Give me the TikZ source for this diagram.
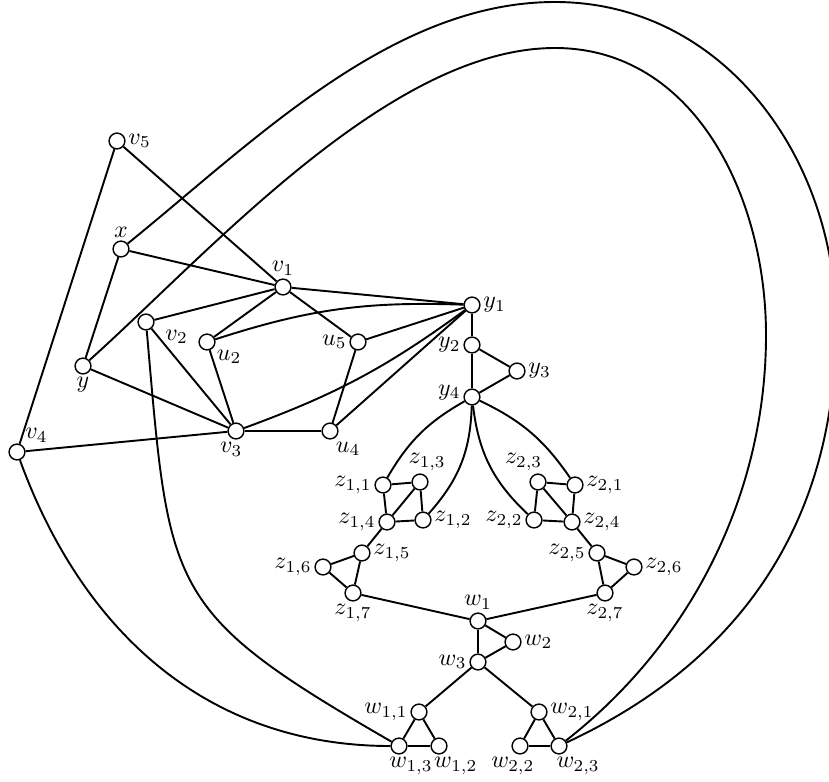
\documentclass[tikz,border=0pt]{standalone}
\usepackage{amsmath}
\usepackage{amssymb}

\begin{document}
\begin{tikzpicture}[
		x=0.0147cm, y=0.0147cm, % one unit is one pixel of the sketch
		vert/.style={
				circle,
				draw,
				fill=white,
				semithick,
				inner sep=0pt,
				minimum size=6.6pt % Diameter of the vertex discs
			},
		edge/.style={thick},
		every label/.append style={inner sep=1pt},
		label distance=0pt
	]
	\useasboundingbox (0,0) rectangle (829,-781);

	% outer part
	\node[vert, label=right:$v_5$] (v5) at (117,-141) {};
	\node[vert, label=above:$x$] (x) at (121,-249) {};
	\node[vert, label=above:$v_1$] (v1) at (283,-287) {};
	\node[vert, label=right:$y_1$] (y1) at (472,-305) {};
	\node[vert, label={[xshift=4pt]-35:$v_2$}] (v2) at (146,-322) {};
	\node[vert, label=-35:$u_2$] (u2) at (207,-342) {};
	\node[vert, label=left:$u_5$] (u5) at (358,-342) {};
	\node[vert, label=below:$y$] (y) at (83,-366) {};
	\node[vert, label={[xshift=-2pt]below:$v_3$}] (v3) at (236,-431) {};
	\node[vert, label=-70:$u_4$] (u4) at (330,-431) {};
	\node[vert, label=50:$v_4$] (v4) at (17,-452) {};

	% y gadget
	\node[vert, label=left:$y_2$] (y2) at (472,-345) {};
	\node[vert, label=right:$y_3$] (y3) at (517,-371) {};
	\node[vert, label={[yshift=2pt]left:$y_4$}] (y4) at (472,-397) {};

	% z gadgets
	\node[vert, label=left:$z_{1,1}$] (z11) at (383,-485) {};
	\node[vert, label={[xshift=3pt]above:$z_{1,3}$}] (z13) at (420,-482) {};
	\node[vert, label=left:$z_{1,4}$] (z14) at (387,-522) {};
	\node[vert, label=right:$z_{1,2}$] (z12) at (423,-520) {};
	\node[vert, label=right:$z_{1,5}$] (z15) at (362,-553) {};
	\node[vert, label=left:$z_{1,6}$] (z16) at (323,-567) {};
	\node[vert, label=below:$z_{1,7}$] (z17) at (353,-593) {};

	\node[vert, label={[xshift=-6pt]above:$z_{2,3}$}] (z23) at (538,-482) {};
	\node[vert, label=right:$z_{2,1}$] (z21) at (575,-485) {};
	\node[vert, label=left:$z_{2,2}$] (z22) at (534,-520) {};
	\node[vert, label=right:$z_{2,4}$] (z24) at (572,-522) {};
	\node[vert, label=left:$z_{2,5}$] (z25) at (597,-553) {};
	\node[vert, label=right:$z_{2,6}$] (z26) at (634,-567) {};
	\node[vert, label=below:$z_{2,7}$] (z27) at (605,-593) {};

	% w gadgets
	\node[vert, label=above:$w_1$] (w1) at (478,-621) {};
	\node[vert, label=right:$w_2$] (w2) at (513,-642) {};
	\node[vert, label=left:$w_3$] (w3) at (478,-662) {};
	\node[vert, label=left:$w_{1,1}$] (w11) at (419,-712) {};
	\node[vert, label=right:$w_{2,1}$] (w21) at (539,-712) {};
	\node[vert, label={[xshift=5pt]below:$w_{1,3}$}] (w13) at (399,-746) {};
	\node[vert, label={[xshift=7pt]below:$w_{1,2}$}] (w12) at (439,-746) {};
	\node[vert, label={[xshift=-3pt]below:$w_{2,2}$}] (w22) at (520,-746) {};
	\node[vert, label={[xshift=8pt]below:$w_{2,3}$}] (w23) at (559,-746) {};

	% turning points of the two long arcs
	\coordinate (otop) at (555,-2);
	\coordinate (oright) at (836,-325);
	\coordinate (itop) at (555,-48);
	\coordinate (iright) at (766,-335);

	\draw[edge] (v5) -- (v4);
	\draw[edge] (v5) -- (v1);
	\draw[edge] (x) -- (v1);
	\draw[edge] (x) -- (y);
	\draw[edge] (y) -- (v3);
	\draw[edge] (v1) -- (v2);
	\draw[edge] (v1) -- (u2);
	\draw[edge] (v1) -- (u5);
	\draw[edge] (v1) -- (y1);
	\draw[edge] (v2) -- (v3);
	\draw[edge] (u2) -- (v3);
	\draw[edge] (u2) to[bend left=10] (y1);
	\draw[edge] (u5) -- (y1);
	\draw[edge] (u5) -- (u4);
	\draw[edge] (v3) -- (u4);
	\draw[edge] (v3) to[bend right=8] (y1);
	\draw[edge] (u4) -- (y1);
	\draw[edge] (v3) -- (v4);

	\draw[edge] (v4) to[out=-70, in=180] (w13);
	\draw[edge] (v2) to[out=-85, in=150, looseness=1.4] (w13);
	\draw[edge] (x) to[out=39, in=180, looseness=0.85] (otop)
	to[out=0, in=90] (oright)
	to[out=-90, in=25] (w23);
	\draw[edge] (y) to[out=42, in=180, looseness=0.75] (itop)
	to[out=0, in=90] (iright)
	to[out=-90, in=38, looseness=0.9] (w23);

	\draw[edge] (y1) -- (y2);
	\draw[edge] (y2) -- (y3);
	\draw[edge] (y2) -- (y4);
	\draw[edge] (y3) -- (y4);

	\draw[edge] (y4) to[bend right=15] (z11);
	\draw[edge] (y4) to[bend left=20] (z12);
	\draw[edge] (y4) to[bend right=20] (z22);
	\draw[edge] (y4) to[bend left=15] (z21);

	\draw[edge] (z11) -- (z13);
	\draw[edge] (z11) -- (z14);
	\draw[edge] (z13) -- (z14);
	\draw[edge] (z13) -- (z12);
	\draw[edge] (z14) -- (z12);
	\draw[edge] (z14) -- (z15);
	\draw[edge] (z15) -- (z16);
	\draw[edge] (z15) -- (z17);
	\draw[edge] (z16) -- (z17);
	\draw[edge] (z17) -- (w1);

	\draw[edge] (z23) -- (z21);
	\draw[edge] (z23) -- (z22);
	\draw[edge] (z23) -- (z24);
	\draw[edge] (z21) -- (z24);
	\draw[edge] (z22) -- (z24);
	\draw[edge] (z24) -- (z25);
	\draw[edge] (z25) -- (z26);
	\draw[edge] (z25) -- (z27);
	\draw[edge] (z26) -- (z27);
	\draw[edge] (z27) -- (w1);

	\draw[edge] (w1) -- (w2);
	\draw[edge] (w1) -- (w3);
	\draw[edge] (w2) -- (w3);
	\draw[edge] (w3) -- (w11);
	\draw[edge] (w3) -- (w21);
	\draw[edge] (w11) -- (w13);
	\draw[edge] (w11) -- (w12);
	\draw[edge] (w13) -- (w12);
	\draw[edge] (w21) -- (w22);
	\draw[edge] (w21) -- (w23);
	\draw[edge] (w22) -- (w23);
\end{tikzpicture}
\end{document}
